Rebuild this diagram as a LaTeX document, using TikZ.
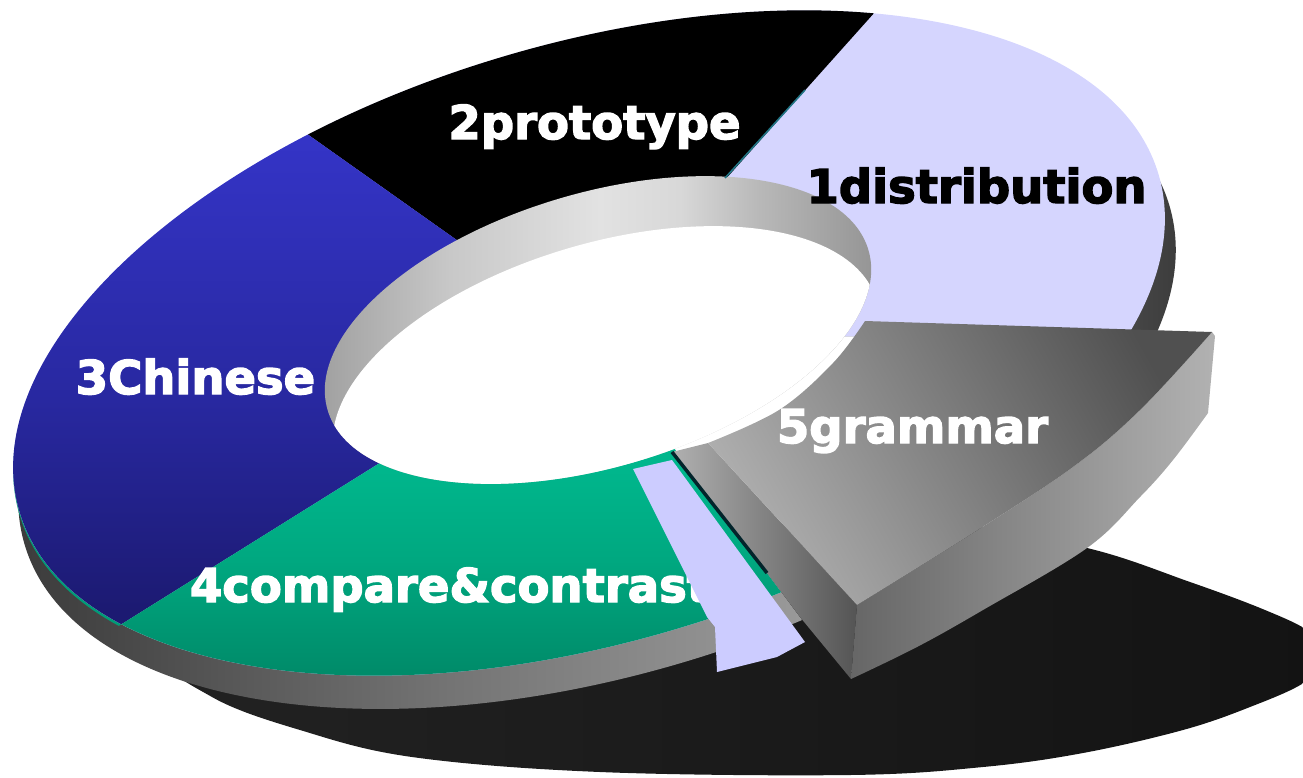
\documentclass[tikz,border=0pt]{standalone}
\usepackage{fontspec}
\setmainfont{DejaVu Sans}
\newfontfamily\lblfont{DejaVu Sans}[BoldFeatures={FakeBold=3}]

% slice colours
\definecolor{lav}{HTML}{D5D5FE}
\definecolor{stripc}{HTML}{CCCCFF}
\definecolor{seam}{HTML}{217585}
\definecolor{gapline}{HTML}{03242B}
% outer side wall
\definecolor{wa}{HTML}{3A3A3A}
\definecolor{wb}{HTML}{454545}
\definecolor{wc}{HTML}{5A5A5A}
\definecolor{wd}{HTML}{747474}
\definecolor{we}{HTML}{8A8A8A}
\definecolor{wf}{HTML}{999999}
\definecolor{wg}{HTML}{8A8A8A}
\definecolor{wh}{HTML}{505050}
\definecolor{wi}{HTML}{3C3C3C}
% inner wall of the hole
\definecolor{ha}{HTML}{A0A0A0}
\definecolor{hb}{HTML}{C8C8C8}
\definecolor{hc}{HTML}{E2E2E2}
\definecolor{hd}{HTML}{D8D8D8}
\definecolor{he}{HTML}{B8B8B8}
\definecolor{hf}{HTML}{969696}
% blue and green faces
\definecolor{ba}{HTML}{3434C6}
\definecolor{bb}{HTML}{2828A0}
\definecolor{bc}{HTML}{1C1A72}
\definecolor{ga}{HTML}{00B68C}
\definecolor{gb}{HTML}{00A880}
\definecolor{gc}{HTML}{008C6A}
\definecolor{gedge}{HTML}{009C77}
% exploded slice
\definecolor{gtopL}{HTML}{B0B0B0}
\definecolor{gtopD}{HTML}{505050}
\definecolor{gwallL}{HTML}{666666}
\definecolor{gwallR}{HTML}{B2B2B2}
\definecolor{gsideL}{HTML}{B0B0B0}
\definecolor{gsideR}{HTML}{545454}
% floor shadow
\definecolor{shL}{HTML}{222222}
\definecolor{shR}{HTML}{131313}

% shadings are laid over the whole 1303 x 777 canvas: 25bp..75bp = full width/height
\pgfdeclarehorizontalshading{wallshade}{100bp}{color(0bp)=(wa); color(25bp)=(wa);
  color(28.84bp)=(wb); color(34.59bp)=(wc); color(42.27bp)=(wd); color(49.94bp)=(we);
  color(55.70bp)=(wf); color(61.45bp)=(wg); color(66.44bp)=(wh); color(70.28bp)=(wi);
  color(100bp)=(wi)}
\pgfdeclarehorizontalshading{holeshade}{100bp}{color(0bp)=(ha); color(37.28bp)=(ha);
  color(42.27bp)=(hb); color(48.02bp)=(hc); color(51.09bp)=(hd); color(54.16bp)=(he);
  color(58.38bp)=(hf); color(100bp)=(hf)}
\pgfdeclareverticalshading{blueshade}{100bp}{color(0bp)=(bc); color(35.75bp)=(bc);
  color(49.26bp)=(bb); color(66bp)=(ba); color(100bp)=(ba)}
\pgfdeclareverticalshading{greenshade}{100bp}{color(0bp)=(gc); color(31.89bp)=(gc);
  color(38.96bp)=(gb); color(44.76bp)=(ga); color(100bp)=(ga)}

\tikzset{
  tilt/.style={rotate around={16.5:#1}},
  lbl/.style={font=\lblfont\bfseries\fontsize{46.5}{50}\selectfont, inner sep=0pt, anchor=base},
}

\begin{document}
\begin{tikzpicture}[x=1pt,y=-1pt]
\useasboundingbox (0,0) rectangle (1303,777);

% shadow on the floor
\shade[left color=shL, right color=shR]
  plot[smooth cycle, tension=0.6] coordinates {(160,650) (212,697) (300,730) (412,757)
  (600,772) (850,775) (983,767) (1083,753) (1183,730) (1250,707) (1305,682) (1326,655)
  (1310,632) (1265,610) (1190,582) (1087,548) (950,525) (700,528) (450,560) (260,605)};

% ring without the exploded slice
\begin{scope}
  \clip (588,333) -- (1125,1053) -- (-900,1300) -- (-900,-900) -- (2800,-900) -- (2724,360) -- cycle;
  % outer side wall
  \begin{scope}
    \clip[tilt={(597,375)}] (597,375) ellipse [x radius=597pt, y radius=300pt];
    \shade[shading=wallshade] (0,0) rectangle (1303,777);
  \end{scope}
  % green rim peeking out under the blue face
  \begin{scope}
    \clip (588,333) -- (-777,1185) -- (-900,1185) -- (-900,-258) -- (-246,-258) -- cycle;
    \fill[gedge, tilt={(589,346)}] (589,346) ellipse [x radius=594pt, y radius=299pt];
  \end{scope}
  % top faces
  \fill[lav, tilt={(589,343)}] (589,343) ellipse [x radius=594pt, y radius=299pt];
  \begin{scope}
    \clip[tilt={(589,343)}] (589,343) ellipse [x radius=594pt, y radius=299pt];
    \fill[black] (588,333) -- (-246,-258) -- (-246,-900) -- (1449,-900) -- (1449,-630) -- cycle;
    \begin{scope}
      \clip (588,333) -- (-777,1185) -- (-900,1185) -- (-900,-258) -- (-246,-258) -- cycle;
      \shade[shading=blueshade] (0,0) rectangle (1303,777);
    \end{scope}
    \begin{scope}
      \clip (588,333) -- (1125,1053) -- (1125,1300) -- (-777,1300) -- (-777,1185) -- cycle;
      \shade[shading=greenshade] (0,0) rectangle (1303,777);
    \end{scope}
  \end{scope}
\end{scope}

% hole: inner wall seen through the opening
\begin{scope}
  \clip[tilt={(598,330)}] (598,330) ellipse [x radius=282pt, y radius=137pt];
  \shade[shading=holeshade] (0,0) rectangle (1303,777);
  \fill[white, tilt={(606,380)}] (606,380) ellipse [x radius=282pt, y radius=137pt];
\end{scope}

% seam between slices 1 and 2
\draw[seam, line width=1.6pt] (725,178) -- (805,90);

% labels on the ring
\node[lbl, text=white] (l2) at (594.5,139) {2prototype};
\node[lbl, text=black] (l1) at (976.5,203) {1distribution};
\node[lbl, text=white] (l3) at (195.5,394) {3Chinese};
\node[lbl, text=white] (l4) at (449.5,602) {4compare\&contrast};

% exploded slice: radial side face
\begin{scope}
  \clip (672,452) -- (708,443) -- (857,605) -- (851,679) -- (800,617) -- (767,573) -- cycle;
  \shade[left color=gsideL, right color=gsideR] (672,440) rectangle (858,680);
\end{scope}
\draw[gapline, line width=3.5pt] (672,452) -- (767,573);

% exploded slice: outer wall
\begin{scope}
  \clip (1215,336) -- plot[smooth, tension=0.6] coordinates {(1212,332) (1140,410) (1073,467) (973,533) (857,605)}
    -- (851,679) -- plot[smooth, tension=0.6] coordinates {(851,679) (917,647) (983,610) (1087,548) (1140,497) (1173,460) (1208,413)}
    -- cycle;
  \shade[left color=gwallL, right color=gwallR] (850,330) rectangle (1216,680);
\end{scope}

% exploded slice: top face
\begin{scope}
  \clip plot[smooth, tension=0.6] coordinates {(708,443) (779,410) (833,363) (865,321)}
    -- (1212,332) -- plot[smooth, tension=0.6] coordinates {(1212,332) (1140,410) (1073,467) (973,533) (857,605)}
    -- cycle;
  \shade[top color=gtopD, bottom color=gtopL, shading angle=-61] (700,315) rectangle (1216,610);
\end{scope}
\node[lbl, text=white] (l5) at (912.5,443) {5grammar};

% end face strip of slice 1
\fill[stripc] (633,469) -- (672,460) -- (805,642) -- (790,650) -- (777,657) -- (717,672)
  -- (715,627) -- (707,617) -- cycle;
\end{tikzpicture}
\end{document}
